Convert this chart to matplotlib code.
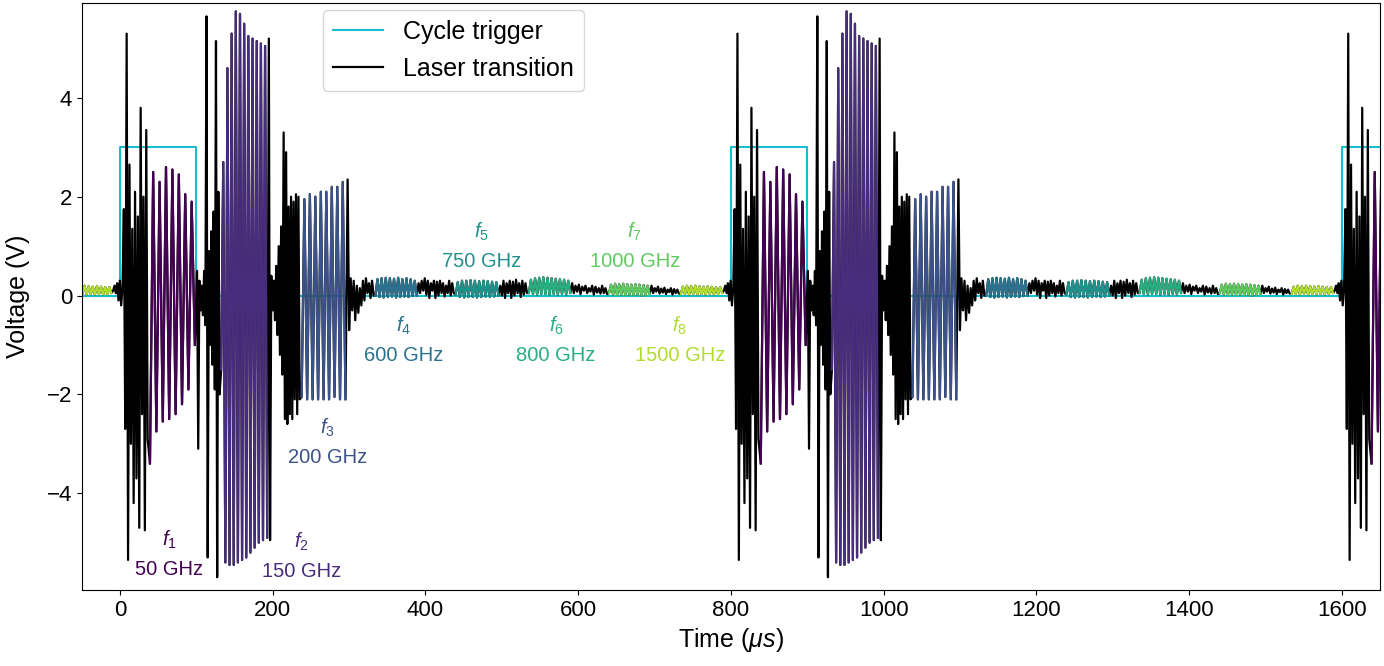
import matplotlib
matplotlib.use("Agg")
import matplotlib.pyplot as plt
import numpy as np

plt.rcParams["font.family"] = ["Liberation Sans", "DejaVu Sans"]
plt.rcParams["mathtext.fontset"] = "custom"
plt.rcParams["mathtext.rm"] = "Liberation Sans"
plt.rcParams["mathtext.it"] = "Liberation Sans:italic"

# ---- data (one 800 us cycle, times relative to trigger) ----
PERIOD = 800
CYCLE_STARTS = [-800, 0, 800, 1600]

# segment boundaries (us) and which frequency colours them (None = only black trace)
BOUNDS = [-10, 4, 37, 100, 131, 194, 236, 297, 333, 390, 438, 497, 534, 591, 639, 695, 733, 790]
SEG_FREQ = [None, None, 0, None, 1, None, 2, None, 3, None, 4, None, 5, None, 6, None, 7]

PRE = [0.1, 0.2, 0.05, 0.25, -0.1, 0.3, -0.2, 0.15]
BURST1 = [1.75, -2.7, 5.3, -5.35, 2.65, -3.0, 1.35, -4.2, 2.1, -3.7, 1.6, -4.7,
          3.8, -2.4, 2.0, -4.75, 3.35, -2.9]
F1 = [-3.4, 2.5, -2.75, 2.3, -2.55, 2.6, -2.5, 2.55, -2.4, 2.45, -2.2, 2.05, -1.9, 1.9, -1.0]
GAP1 = [0.5, -3.1, 0.3, -0.3, 0.2, -0.4, 0.5, -0.6, 5.65, -5.3, 0.9, -1.0, 1.3, -1.4,
        1.7, -1.9, 5.15, -5.7, 2.1, -2.0]
F2 = [-1.5, 2.7, -5.4, 4.6, -5.45, 5.3, -5.45, 5.75, -5.4, 5.7, -5.35, 5.5, -5.3, 5.25,
      -5.2, 5.2, -5.1, 5.15, -5.0, 5.1, -4.95, 5.05, -4.9]
GAP2 = [5.2, -4.95, 0.4, -0.3, 0.3, -0.5, 0.6, -0.8, 1.0, -1.2, 1.4, -1.6, 3.3, -2.5,
        2.9, -2.6, 1.8, -2.4, 2.0, -2.5, 1.9, -2.1, 2.05, -2.4, 2.0, -2.1]
F3 = [-2.05, 1.95, -2.1, 2.05, -2.1, 2.0, -2.1, 2.1, -2.1, 2.1, -2.1, 2.2, -2.05, 2.2,
      -2.1, 2.3, -2.1]
GAP3 = [2.35, -0.7, 0.35, -0.3, 0.3, -0.5, 0.2, -0.35, 0.15, -0.2, 0.3, -0.1, 0.35,
        0.05, 0.25, -0.05, 0.3, 0.0]
F4 = [0.0, 0.33, -0.03, 0.35, -0.04, 0.36, -0.03, 0.35, -0.02, 0.34, -0.04, 0.36,
      -0.03, 0.33, -0.02, 0.35, -0.03, 0.33, -0.01, 0.3, 0.0]
GAP4 = [0.25, 0.05, 0.3, 0.1, 0.35, 0.02, 0.3, -0.05, 0.25, 0.1, 0.3, -0.05, 0.28, 0.0,
        0.3, 0.05, 0.25, -0.02, 0.2, 0.05, 0.3, 0.0, 0.25, 0.05]
F5 = [0.02, 0.27, -0.03, 0.3, -0.04, 0.3, -0.03, 0.31, -0.03, 0.3, -0.04, 0.29, -0.03,
      0.3, -0.02, 0.29, -0.03, 0.28, -0.02, 0.27, 0.0]
GAP5 = [0.2, 0.0, 0.3, -0.05, 0.25, 0.05, 0.3, -0.05, 0.28, 0.0, 0.32, 0.05, 0.25,
        -0.03, 0.3, 0.02, 0.25, 0.05]
F6 = [0.05, 0.32, 0.03, 0.35, 0.02, 0.36, 0.03, 0.37, 0.03, 0.36, 0.02, 0.35, 0.03,
      0.34, 0.02, 0.33, 0.03, 0.32, 0.02, 0.3, 0.05]
GAP6 = [0.25, 0.05, 0.2, 0.08, 0.22, 0.03, 0.18, 0.1, 0.2, 0.05, 0.15, 0.08, 0.2, 0.02,
        0.18, 0.06, 0.15, 0.04, 0.2, 0.05, 0.15, 0.03]
F7 = [0.05, 0.22, 0.02, 0.24, 0.01, 0.23, 0.02, 0.24, 0.01, 0.23, 0.02, 0.22, 0.01,
      0.23, 0.02, 0.22, 0.0, 0.21, 0.01, 0.2, 0.03]
GAP7 = [0.2, 0.05, 0.15, 0.08, 0.18, 0.04, 0.14, 0.06, 0.16, 0.03, 0.12, 0.07, 0.15,
        0.02, 0.13, 0.05, 0.12, 0.04]
F8 = [0.03, 0.18, 0.03, 0.2, 0.02, 0.19, 0.03, 0.2, 0.02, 0.19, 0.03, 0.18, 0.02, 0.19,
      0.03, 0.18, 0.02, 0.17, 0.03, 0.17, 0.05]

SEGMENTS = [PRE, BURST1, F1, GAP1, F2, GAP2, F3, GAP3, F4, GAP4, F5, GAP5, F6, GAP6,
            F7, GAP7, F8]

TRIGGER_T = [-50, 0, 0, 100, 100, 800, 800, 900, 900, 1600, 1600, 1700]
TRIGGER_V = [0, 0, 3, 3, 0, 0, 3, 3, 0, 0, 3, 3]

FREQ_NAMES = ["$f_1$", "$f_2$", "$f_3$", "$f_4$", "$f_5$", "$f_6$", "$f_7$", "$f_8$"]
FREQ_GHZ = [50, 150, 200, 600, 750, 800, 1000, 1500]
LABEL_T = [64, 238, 272, 371, 473, 571, 674, 733]
LABEL_V = [-5.22, -5.26, -2.97, -0.89, 1.01, -0.89, 1.01, -0.89]

colors = plt.cm.viridis(np.linspace(0, 0.88, 8))


def seg_times(t0, t1, n):
    dt = (t1 - t0) / n
    return t0 + dt * (np.arange(n) + 0.5)


fig, ax = plt.subplots(figsize=(13.84, 6.66), dpi=100)
fig.subplots_adjust(left=0.0592, right=0.997, top=0.9955, bottom=0.114)

ax.plot(TRIGGER_T, TRIGGER_V, color="#17becf", lw=1.5, label="Cycle trigger")

# full laser trace in black
all_t, all_v = [], []
for c0 in CYCLE_STARTS:
    for i, vals in enumerate(SEGMENTS):
        all_t.append(c0 + seg_times(BOUNDS[i], BOUNDS[i + 1], len(vals)))
        all_v.append(np.asarray(vals))
all_t = np.concatenate(all_t)
all_v = np.concatenate(all_v)
ax.plot(all_t, all_v, color="black", lw=1.6, label="Laser transition")

# frequency segments coloured on top
for c0 in CYCLE_STARTS:
    for i, vals in enumerate(SEGMENTS):
        k = SEG_FREQ[i]
        if k is None:
            continue
        ax.plot(c0 + seg_times(BOUNDS[i], BOUNDS[i + 1], len(vals)), vals,
                color=colors[k], lw=1.6)

for k in range(8):
    ax.text(LABEL_T[k], LABEL_V[k], f"{FREQ_NAMES[k]}\n{FREQ_GHZ[k]} GHz",
            ha="center", va="center", multialignment="center",
            color=colors[k], fontsize=14.5, linespacing=1.6)

ax.set_xlim(-50, 1650)
ax.set_ylim(-5.96, 5.92)
ax.set_yticks([-4, -2, 0, 2, 4])
ax.set_xlabel(r"Time ($\mu s$)", fontsize=18)
ax.set_ylabel("Voltage (V)", fontsize=18, labelpad=12)
ax.tick_params(labelsize=16)
ax.legend(loc="upper left", bbox_to_anchor=(0.1857, 0.988), borderaxespad=0,
          fontsize=18)

fig.savefig("out.png", dpi=100)
